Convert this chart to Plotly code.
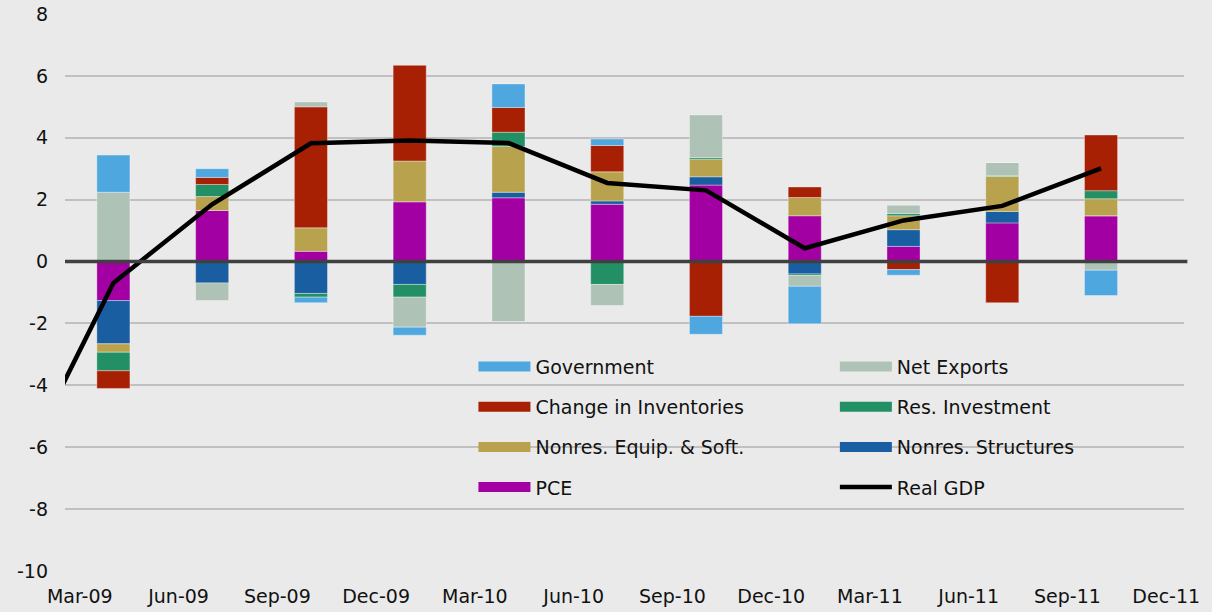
"""
Contributions to real GDP growth, stacked by component, with Real GDP line.
"""

import numpy as np
import plotly.graph_objects as go

tick_labels = ["Mar-09", "Jun-09", "Sep-09", "Dec-09", "Mar-10", "Jun-10",
               "Sep-10", "Dec-10", "Mar-11", "Jun-11", "Sep-11", "Dec-11"]
y_ticks = [8, 6, 4, 2, 0, -2, -4, -6, -8, -10]

# contributions (percentage points), one value per quarter shown as a bar
pce = [-1.26, 1.65, 0.33, 1.93, 2.06, 1.85, 2.47, 1.48, 0.49, 1.25, 1.48]
nonres_struct = [-1.40, -0.69, -1.03, -0.74, 0.18, 0.11, 0.27, -0.40, 0.54, 0.37, 0.0]
nonres_equip = [-0.27, 0.45, 0.76, 1.32, 1.48, 0.94, 0.57, 0.59, 0.45, 1.13, 0.55]
res_invest = [-0.60, 0.39, -0.12, -0.41, 0.46, -0.74, 0.05, -0.05, 0.07, 0.02, 0.26]
inventories = [-0.57, 0.23, 3.91, 3.09, 0.80, 0.85, -1.77, 0.34, -0.26, -1.33, 1.80]
net_exports = [2.24, -0.57, 0.16, -0.97, -1.94, -0.68, 1.38, -0.35, 0.27, 0.43, -0.28]
government = [1.20, 0.28, -0.18, -0.26, 0.76, 0.21, -0.58, -1.21, -0.18, 0.0, -0.82]

# real GDP growth; the prior quarter sits just off the left edge of the chart
gdp_prior = -7.1
real_gdp = [-0.69, 1.85, 3.82, 3.91, 3.83, 2.54, 2.30, 0.43, 1.33, 1.80, 3.01]

# stacking order (bottom first) and legend slot (col, row)
components = [
    ("PCE", pce, "#a200a2", 1, 3),
    ("Nonres. Structures", nonres_struct, "#1a5ea2", 2, 2),
    ("Nonres. Equip. & Soft.", nonres_equip, "#b9a24d", 1, 2),
    ("Res. Investment", res_invest, "#238f64", 2, 1),
    ("Change in Inventories", inventories, "#a82003", 1, 1),
    ("Net Exports", net_exports, "#aec3b5", 2, 0),
    ("Government", government, "#4ea7df", 1, 0),
]

FONT = "DejaVu Sans"
bar_x = np.arange(len(pce))

fig = go.Figure()
for name, vals, color, col, row in components:
    fig.add_trace(go.Bar(
        x=bar_x, y=vals, name=name, width=0.335,
        marker=dict(color=color, line=dict(color="rgba(255,255,255,0.35)", width=1)),
        legendgroup=name, showlegend=False,
    ))
    # wide swatch for the legend
    fig.add_trace(go.Scatter(
        x=[None], y=[None], mode="lines", name=name,
        line=dict(color=color, width=13),
        legendgroup=name, legend="legend" if col == 1 else "legend2",
        legendrank=row,
    ))

fig.add_trace(go.Scatter(
    x=np.arange(-1, len(real_gdp)), y=[gdp_prior] + real_gdp,
    mode="lines", name="Real GDP",
    line=dict(color="black", width=4.5),
    legendgroup="Real GDP", legend="legend2", legendrank=3,
))

legend_style = dict(
    font=dict(family=FONT, size=19, color="#111111"),
    bgcolor="rgba(0,0,0,0)", yanchor="top", xanchor="left",
    tracegroupgap=12.5, itemwidth=52, traceorder="grouped",
)

fig.update_layout(
    width=1212, height=612,
    barmode="relative",
    paper_bgcolor="#eaeaea", plot_bgcolor="rgba(0,0,0,0)",
    margin=dict(l=65, r=28, t=14, b=41),
    font=dict(family=FONT, size=19, color="#111111"),
    xaxis=dict(
        range=[-0.49, 10.84], tickmode="array",
        tickvals=np.arange(len(tick_labels)) - 0.34, ticktext=tick_labels,
        showgrid=False, zeroline=False, showline=False, ticks="",
        ticklabelstandoff=12, automargin=False,
    ),
    yaxis=dict(
        range=[-10, 8], tickmode="array", tickvals=y_ticks,
        ticktext=[str(v) for v in y_ticks],
        showgrid=True, gridcolor="#c0c0c0", gridwidth=2,
        zeroline=False, showline=False, ticks="", ticklabelstandoff=16,
        automargin=False,
    ),
    legend=dict(x=0.365, y=0.401, **legend_style),
    legend2=dict(x=0.688, y=0.401, **legend_style),
    shapes=[dict(
        type="line", xref="paper", yref="y", x0=0, x1=1.003, y0=0, y1=0,
        line=dict(color="#404040", width=3.5), layer="above",
    )],
)

fig.write_html("out.html", config={"displayModeBar": False},
               post_script="document.body.style.margin='0';")
